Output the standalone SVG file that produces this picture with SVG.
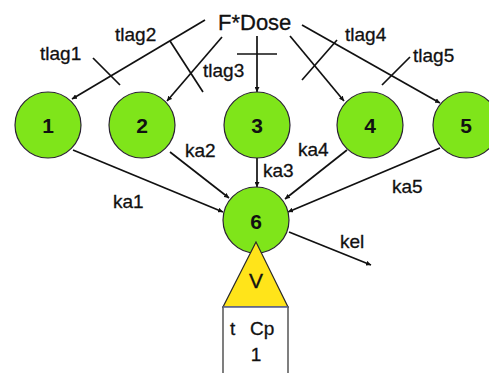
<svg xmlns="http://www.w3.org/2000/svg" width="489" height="373" viewBox="0 0 489 373">
  <style>
    .lbl { font-family: "Liberation Sans", Arial, sans-serif; font-size: 19px; fill: #111; stroke: #111; stroke-width: 0.3; }
    .num { font-family: "Liberation Sans", Arial, sans-serif; font-size: 21px; font-weight: bold; fill: #111; text-anchor: middle; }
    .cmp { fill: #7fe51a; stroke: #2b2433; stroke-width: 1.2; }
    .edge { stroke: #111; stroke-width: 1.7; fill: none; }
    .arr { marker-end: url(#head); }
  </style>
  <defs>
    <marker id="head" viewBox="0 0 10 10" refX="10" refY="5" markerWidth="5" markerHeight="5" markerUnits="userSpaceOnUse" orient="auto">
      <path d="M0,0 L10,5 L0,10 Z" fill="#111"/>
    </marker>
  </defs>

  <g id="connectors">
    <!-- dose to depots -->
    <line class="edge arr" x1="205" y1="20" x2="72" y2="99"/>
    <line class="edge arr" x1="222" y1="37" x2="167" y2="101"/>
    <line class="edge arr" x1="257" y1="36" x2="257" y2="92"/>
    <line class="edge arr" x1="290" y1="36" x2="344" y2="101"/>
    <line class="edge arr" x1="302" y1="25" x2="440" y2="103"/>
    <!-- lag-time ticks -->
    <line class="edge" x1="93" y1="58" x2="120" y2="85"/>
    <line class="edge" x1="170" y1="41" x2="203" y2="92"/>
    <line class="edge" x1="237" y1="54" x2="277" y2="54"/>
    <line class="edge" x1="337" y1="40" x2="302" y2="80"/>
    <line class="edge" x1="410" y1="57" x2="382" y2="85"/>
    <!-- absorption into central -->
    <line class="edge arr" x1="73" y1="150" x2="223" y2="212"/>
    <line class="edge arr" x1="170" y1="152" x2="229" y2="198"/>
    <line class="edge arr" x1="257" y1="158" x2="257" y2="187"/>
    <line class="edge arr" x1="347" y1="150" x2="285" y2="199"/>
    <line class="edge arr" x1="440" y1="148" x2="288" y2="212"/>
    <!-- elimination -->
    <line class="edge arr" x1="289" y1="232" x2="371" y2="265"/>
  </g>

  <g id="labels">
    <text class="lbl" x="218" y="30" style="font-size:22px">F*Dose</text>
    <text class="lbl" x="40" y="60">tlag1</text>
    <text class="lbl" x="115" y="41">tlag2</text>
    <text class="lbl" x="203" y="77">tlag3</text>
    <text class="lbl" x="345" y="41">tlag4</text>
    <text class="lbl" x="413" y="62">tlag5</text>
    <text class="lbl" x="113" y="208">ka1</text>
    <text class="lbl" x="185" y="157">ka2</text>
    <text class="lbl" x="263" y="177">ka3</text>
    <text class="lbl" x="298" y="156">ka4</text>
    <text class="lbl" x="392" y="193">ka5</text>
    <text class="lbl" x="340" y="248">kel</text>
  </g>

  <g id="node1"><circle class="cmp" cx="48" cy="125" r="33"/><text class="num" x="48" y="133">1</text></g>
  <g id="node2"><circle class="cmp" cx="142" cy="125" r="33"/><text class="num" x="142" y="133">2</text></g>
  <g id="node3"><circle class="cmp" cx="257" cy="125" r="33"/><text class="num" x="257" y="133">3</text></g>
  <g id="node4"><circle class="cmp" cx="370" cy="125" r="33"/><text class="num" x="370" y="133">4</text></g>
  <g id="node5"><circle class="cmp" cx="466" cy="125" r="33"/><text class="num" x="466" y="133">5</text></g>
  <g id="node6"><circle class="cmp" cx="256" cy="220" r="33"/><text class="num" x="256" y="229">6</text></g>

  <g id="volume">
    <polygon points="256,242 223,307 288,307" fill="#ffe41a" stroke="#2a2a2a" stroke-width="1.2"/>
    <text class="lbl" x="256" y="288" text-anchor="middle" style="font-size:21px">V</text>
  </g>

  <g id="observation">
    <rect x="223" y="307" width="65" height="70" fill="#ffffff" stroke="#2a2a2a" stroke-width="1.2"/>
    <line x1="223" y1="307" x2="288" y2="307" stroke="#7f8ad0" stroke-width="1"/>
    <text class="lbl" x="230" y="335">t</text>
    <text class="lbl" x="250" y="335">Cp</text>
    <text class="lbl" x="256" y="361" text-anchor="middle">1</text>
  </g>
</svg>
